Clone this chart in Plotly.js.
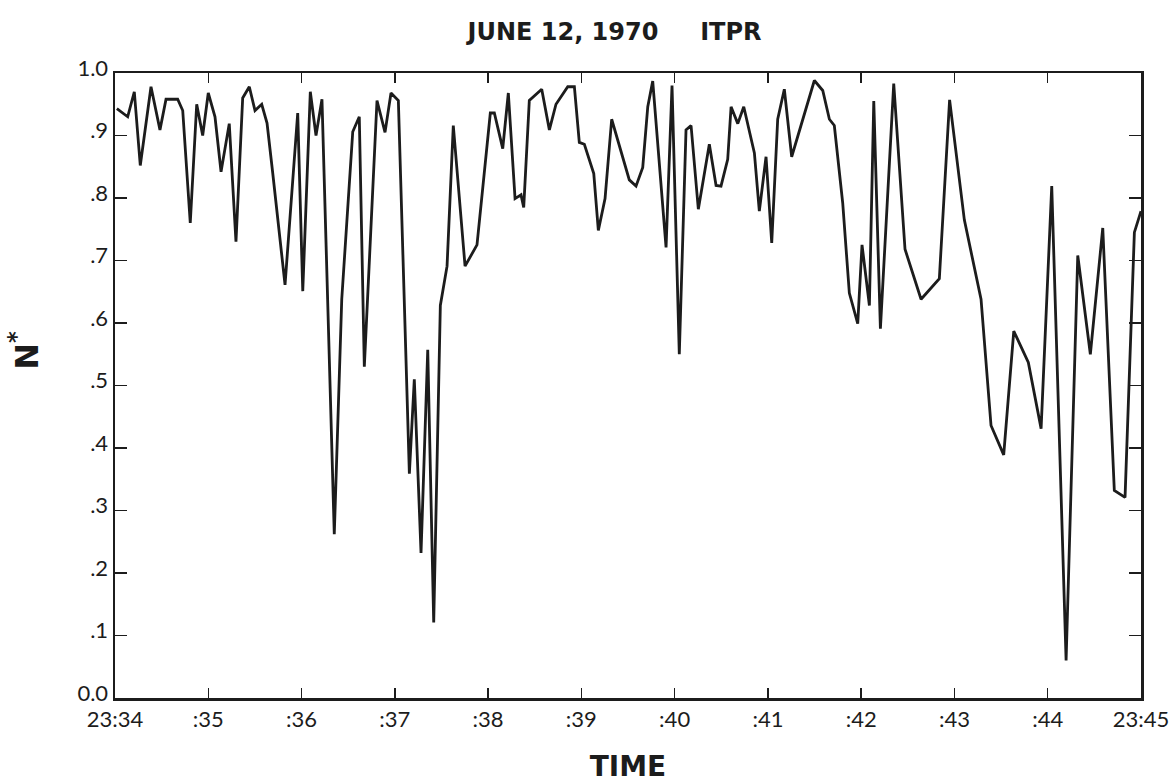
<!DOCTYPE html>
<html>
<head>
<meta charset="utf-8">
<script src="https://cdn.plot.ly/plotly-3.0.1.min.js"></script>
<style>
  html, body { margin: 0; padding: 0; background: #ffffff; }
  #chart { width: 1175px; height: 784px; }
</style>
</head>
<body>
<div id="chart"></div>
<script>
// Time of each sample, in minutes past 23:00
const minutes = [
  34.02, 34.136, 34.207, 34.271, 34.386, 34.482, 34.547, 34.672, 34.726, 34.807, 34.876, 34.940,
  35.000, 35.072, 35.137, 35.225, 35.297, 35.369, 35.440, 35.501, 35.573, 35.630, 35.691,
  35.823, 35.959, 36.013, 36.094, 36.155, 36.219, 36.351, 36.431, 36.549, 36.619, 36.673,
  36.809, 36.895, 36.959, 37.038, 37.156, 37.209, 37.281, 37.353, 37.417, 37.488, 37.560,
  37.627, 37.753, 37.881, 38.024, 38.067, 38.157, 38.217, 38.289, 38.353, 38.382, 38.442,
  38.575, 38.657, 38.728, 38.854, 38.925, 38.978, 39.032, 39.133, 39.182, 39.254, 39.325,
  39.514, 39.586, 39.658, 39.712, 39.765, 39.908, 39.972, 40.050, 40.122, 40.176, 40.254,
  40.372, 40.444, 40.497, 40.569, 40.605, 40.677, 40.741, 40.855, 40.908, 40.980, 41.041,
  41.105, 41.176, 41.255, 41.498, 41.588, 41.659, 41.712, 41.802, 41.873, 41.963, 42.009,
  42.088, 42.135, 42.206, 42.349, 42.470, 42.642, 42.838, 42.948, 43.106, 43.285, 43.392,
  43.528, 43.636, 43.792, 43.929, 44.043, 44.197, 44.322, 44.457, 44.590, 44.714, 44.829, 44.929, 45.000
];

// Normalised N* value at each sample
const nStar = [
  0.943, 0.93, 0.97, 0.852, 0.978, 0.909, 0.958, 0.958, 0.94, 0.76, 0.95, 0.90,
  0.968, 0.93, 0.842, 0.919, 0.73, 0.96, 0.978, 0.94, 0.95, 0.92, 0.84,
  0.661, 0.936, 0.651, 0.97, 0.90, 0.958, 0.262, 0.638, 0.906, 0.93, 0.53,
  0.956, 0.905, 0.968, 0.956, 0.359, 0.51, 0.232, 0.557, 0.121, 0.628, 0.691,
  0.916, 0.691, 0.725, 0.936, 0.936, 0.879, 0.968, 0.799, 0.805, 0.785, 0.956,
  0.974, 0.909, 0.95, 0.978, 0.978, 0.889, 0.886, 0.839, 0.748, 0.799, 0.926,
  0.829, 0.819, 0.849, 0.946, 0.987, 0.721, 0.98, 0.55, 0.909, 0.916, 0.782,
  0.886, 0.82, 0.819, 0.862, 0.946, 0.919, 0.946, 0.872, 0.779, 0.866, 0.728,
  0.926, 0.974, 0.866, 0.988, 0.972, 0.926, 0.916, 0.792, 0.648, 0.599, 0.725,
  0.628, 0.955, 0.591, 0.983, 0.718, 0.638, 0.671, 0.957, 0.765, 0.638, 0.436,
  0.389, 0.587, 0.537, 0.431, 0.819, 0.06, 0.708, 0.55, 0.752, 0.332, 0.321, 0.745, 0.779
];

// Axis ticks
const timeTickVals = [34, 35, 36, 37, 38, 39, 40, 41, 42, 43, 44, 45];
const timeTickText = ["23:34", ":35", ":36", ":37", ":38", ":39", ":40", ":41", ":42", ":43", ":44", "23:45"];
const nTickVals = [0, 0.1, 0.2, 0.3, 0.4, 0.5, 0.6, 0.7, 0.8, 0.9, 1.0];
const nTickText = ["0.0", ".1", ".2", ".3", ".4", ".5", ".6", ".7", ".8", ".9", "1.0"];

const ink = "#1c1c1c";
const labelFont = { family: "Lato, 'Open Sans', sans-serif", size: 22, color: ink };
const heavy = "'DejaVu Sans', 'Liberation Sans', sans-serif";

const trace = {
  x: minutes,
  y: nStar,
  type: "scatter",
  mode: "lines",
  line: { color: ink, width: 2.8 },
  hoverinfo: "x+y"
};

const layout = {
  width: 1175,
  height: 784,
  paper_bgcolor: "#ffffff",
  plot_bgcolor: "#ffffff",
  showlegend: false,
  margin: { l: 115, r: 34, t: 73, b: 86 },
  title: {
    text: "JUNE 12, 1970&nbsp;&nbsp;&nbsp;&nbsp;&nbsp;ITPR",
    font: { family: heavy, size: 24, color: ink, weight: "bold" },
    x: 0.523, xanchor: "center",
    y: 0.960, yanchor: "middle"
  },
  xaxis: {
    range: [34, 45],
    tickmode: "array",
    tickvals: timeTickVals,
    ticktext: timeTickText,
    ticks: "inside",
    ticklen: 10,
    tickwidth: 1.5,
    tickcolor: ink,
    showline: true,
    linewidth: 2.5,
    linecolor: ink,
    mirror: "ticks",
    showgrid: false,
    zeroline: false,
    tickfont: labelFont,
    title: {
      text: "TIME",
      font: { family: heavy, size: 28, color: ink, weight: "bold" },
      standoff: 26
    }
  },
  yaxis: {
    range: [0, 1],
    tickmode: "array",
    tickvals: nTickVals,
    ticktext: nTickText,
    ticks: "inside",
    ticklen: 12,
    tickwidth: 1.5,
    tickcolor: ink,
    showline: true,
    linewidth: 2.5,
    linecolor: ink,
    mirror: "ticks",
    showgrid: false,
    zeroline: false,
    ticklabelshift: -5,
    tickfont: labelFont
  },
  annotations: [{
    text: "N<sup>*</sup>",
    xref: "paper", yref: "paper",
    x: -0.0887, y: 0.557,
    xanchor: "center", yanchor: "middle",
    textangle: -90,
    showarrow: false,
    font: { family: heavy, size: 32, color: ink, weight: "bold" }
  }]
};

Plotly.newPlot("chart", [trace], layout, { displayModeBar: false, staticPlot: true });
</script>
</body>
</html>
